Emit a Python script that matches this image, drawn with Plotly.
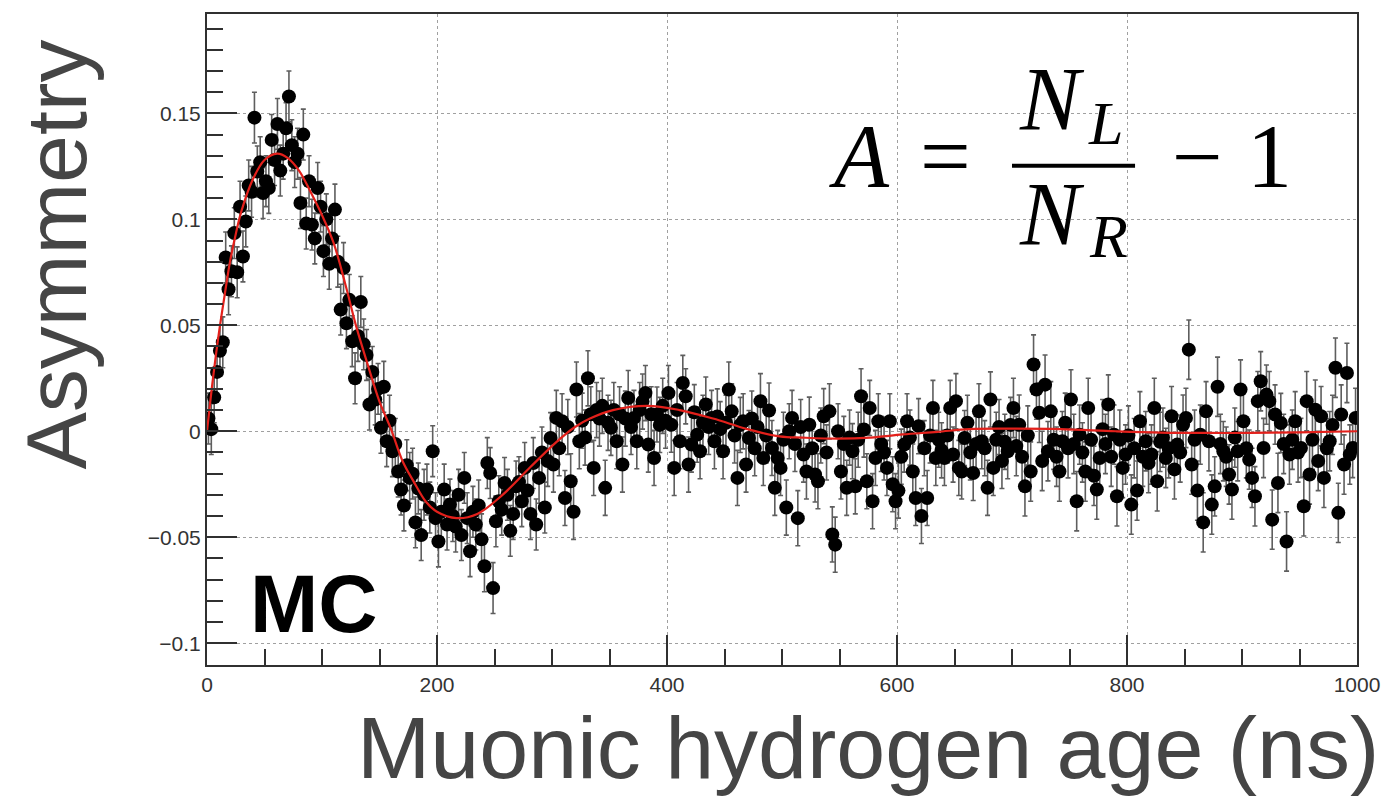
import numpy as np
import plotly.graph_objects as go

# ---------------- data ----------------
T_MAX = 1000.0          # ns, histogram range
N_BINS = 400            # 2.5 ns bins

# asymmetry per 2.5 ns bin (400 values, 4 values per 10 ns)
asymmetry = [
    0.006, 0.001, 0.016, 0.028,   0.038, 0.042, 0.082, 0.067,   0.0755, 0.0935, 0.075, 0.106,
    0.0825, 0.099, 0.116, 0.113,  0.148, 0.1226, 0.127, 0.1124, 0.118, 0.1148, 0.1375, 0.128,
    0.145, 0.123, 0.131, 0.143,   0.158, 0.135, 0.127, 0.131,   0.1077, 0.140, 0.098, 0.118,
    0.0975, 0.091, 0.1148, 0.106, 0.085, 0.100, 0.079, 0.091,   0.1046, 0.080, 0.0574, 0.077,
    0.051, 0.062, 0.0425, 0.025,  0.045, 0.061, 0.041, 0.036,   0.0126, 0.028, 0.015, 0.020,
    0.0016, 0.021, -0.0047, 0.005, -0.0094, -0.006, -0.019, -0.0275, -0.035, -0.016, -0.022, -0.020,
    -0.043, -0.027, -0.049, -0.030, -0.0275, -0.036, -0.0094, -0.041, -0.052, -0.038, -0.0275, -0.044,
    -0.0346, -0.040, -0.045, -0.030, -0.049, -0.022, -0.041, -0.0566, -0.038, -0.044, -0.035, -0.051,
    -0.0637, -0.015, -0.0197, -0.074, -0.0425, -0.033, -0.037, -0.0244, -0.030, -0.047, -0.039, -0.026,
    -0.024, -0.033, -0.0173, -0.028, -0.039, -0.015, -0.044, -0.022, -0.010, -0.036, -0.014, -0.0032,
    -0.0157, 0.0063, -0.008, 0.0047, -0.0315, 0.002, -0.0236, -0.038, 0.0197, -0.0047, 0.005, -0.003,
    0.025, 0.008, -0.0173, 0.010,  0.006, 0.012, -0.0267, 0.004,  0.0016, 0.010, -0.0047, 0.008,
    -0.0157, 0.006, 0.0157, 0.002, 0.0063, -0.0047, 0.010, 0.014, 0.018, -0.0063, 0.008, -0.0126,
    0.0079, 0.003, 0.012, 0.005,  0.018, 0.0031, -0.0173, 0.010, -0.0047, 0.0228, 0.0165, -0.0157,
    -0.0063, 0.009, -0.0016, -0.0094, 0.004, 0.0126, 0.002, 0.0063, -0.0047, 0.007, 0.001, -0.0094,
    0.004, 0.0197, 0.0094, -0.002, -0.022, 0.003, 0.0047, -0.0157, -0.0032, 0.006, -0.008, 0.002,
    0.0142, -0.0126, -0.002, 0.0098, -0.0079, -0.0267, -0.0126, -0.0173, -0.004, -0.036, 0.000, 0.0063,
    -0.006, -0.041, 0.002, -0.011, -0.019, 0.0031, -0.008, -0.0204, -0.0236, -0.002, 0.0071, -0.010,
    0.0094, -0.0487, -0.0535, 0.0, -0.019, -0.006, -0.0267, -0.003, -0.0094, -0.026, -0.004, 0.0165,
    0.0008, -0.0236, 0.011, -0.033, -0.0126, 0.0047, -0.006, -0.010, -0.0173, 0.0047, -0.025, -0.033,
    -0.028, -0.012, -0.0063, 0.0047, -0.003, -0.019, -0.0315, 0.0024, -0.040, -0.008, -0.0315, -0.002,
    0.011, -0.0126, -0.004, -0.009, -0.0126, -0.002, 0.011, -0.011, 0.0142, -0.0173, -0.019, -0.0032,
    0.004, -0.010, -0.0197, -0.006, 0.0094, -0.0047, -0.008, -0.0267, 0.015, -0.0173, -0.004, 0.002,
    -0.014, -0.005, -0.0094, 0.003, 0.011, -0.007, 0.0031, -0.012, -0.026, -0.002, -0.019, 0.0315,
    0.0197, 0.0087, -0.014, 0.022, -0.0094, 0.0094, -0.004, -0.012, -0.019, -0.0047, 0.004, -0.008,
    0.015, -0.006, -0.033, -0.0016, -0.010, -0.019, 0.011, -0.004, -0.021, -0.0275, -0.0126, 0.001,
    -0.006, 0.0126, -0.012, -0.0016, -0.0307, -0.004, -0.0173, -0.011, -0.002, -0.0346, -0.008, -0.028,
    0.0047, -0.012, -0.0047, -0.015, -0.011, 0.011, -0.0236, -0.005, -0.003, -0.0126, -0.008, 0.0071,
    -0.018, -0.0063, -0.010, 0.0031, 0.0063, 0.0385, -0.0157, -0.004, -0.028, -0.0016, -0.043, 0.0094,
    -0.0047, -0.0346, -0.026, 0.021, -0.006, -0.0094, -0.012, -0.0204, -0.0275, -0.003, -0.0094, 0.0197,
    0.0047, -0.008, -0.0134, -0.022, -0.0307, 0.0142, 0.0236, -0.0079, 0.0173, 0.0142, -0.0417, 0.0079,
    -0.0244, 0.0039, -0.006, -0.052, -0.011, -0.004, 0.0047, -0.010, -0.0079, -0.0354, 0.0142, -0.0204,
    -0.004, 0.0102, -0.014, 0.0071, -0.022, -0.008, -0.0047, 0.003, 0.030, -0.0385, 0.0079, -0.0157,
    0.0275, -0.011, -0.0079, 0.0063,
]

# statistical error, one value per 100 ns block
err_per_100ns = [0.012, 0.012, 0.012, 0.013, 0.013, 0.013, 0.013, 0.014, 0.014, 0.014]

# fitted curve, sampled from the red line in the picture
fit_t = [0, 5, 10, 15, 20, 25, 30, 40, 50, 61, 70, 80, 90, 100, 110, 120, 130, 140, 150,
         160, 170, 180, 190, 200, 217, 235, 257, 281, 304, 320, 333, 353, 383, 411, 440,
         470, 498, 518, 548, 577, 605, 635, 663, 700, 742, 790, 829, 870, 907, 950, 1000]
fit_v = [0.0, 0.024, 0.045, 0.063, 0.080, 0.093, 0.104, 0.119, 0.128, 0.131, 0.129, 0.123,
         0.113, 0.102, 0.089, 0.070, 0.049, 0.031, 0.014, 0.001, -0.014, -0.024, -0.033,
         -0.038, -0.041, -0.039, -0.030, -0.017, -0.005, 0.002, 0.006, 0.010, 0.012, 0.010,
         0.006, 0.001, -0.0024, -0.003, -0.0035, -0.003, -0.0015, -0.0003, 0.001, 0.0012,
         0.001, 0.0, -0.0006, -0.0008, -0.0008, -0.0005, 0.0]

x_tick_vals = [0, 200, 400, 600, 800, 1000]
y_tick_vals = [-0.1, -0.05, 0, 0.05, 0.1, 0.15]
y_tick_text = ["\u22120.1", "\u22120.05", "0", "0.05", "0.1", "0.15"]

# ---------------- figure ----------------
bin_w = T_MAX / N_BINS
centers = (np.arange(N_BINS) + 0.5) * bin_w
errors = np.repeat(err_per_100ns, N_BINS // len(err_per_100ns))

fig = go.Figure()
fig.add_trace(go.Scatter(
    x=centers, y=asymmetry, mode="markers",
    marker=dict(color="black", size=14, line=dict(width=0)),
    error_y=dict(type="data", array=errors, color="#5e5e5e", thickness=1.6, width=2.5),
    showlegend=False, hoverinfo="skip",
))
fig.add_trace(go.Scatter(
    x=fit_t, y=fit_v, mode="lines",
    line=dict(color="#e3201b", width=2.2, shape="spline"),
    showlegend=False, hoverinfo="skip",
))

AX = "#303030"
tick_font = dict(family="Liberation Sans, Arial, sans-serif", size=21, color="#333333")

fig.update_layout(
    width=1400, height=800,
    margin=dict(l=207, r=43, t=12, b=135),
    paper_bgcolor="white", plot_bgcolor="white",
    xaxis=dict(
        range=[0, 1000], tickmode="array", tickvals=x_tick_vals,
        ticks="inside", ticklen=30, tickwidth=1.5, tickcolor=AX,
        showline=True, linecolor=AX, linewidth=2, mirror=True,
        showgrid=True, gridcolor="#a0a0a0", gridwidth=1, griddash="dot",
        zeroline=False, tickfont=tick_font,
        minor=dict(dtick=50, tick0=0, ticks="inside", ticklen=16, tickwidth=1.5,
                   tickcolor=AX, showgrid=False),
    ),
    yaxis=dict(
        range=[-0.1103, 0.1969], tickmode="array", tickvals=y_tick_vals, ticktext=y_tick_text,
        ticks="inside", ticklen=30, tickwidth=1.5, tickcolor=AX,
        showline=True, linecolor=AX, linewidth=2, mirror=True,
        showgrid=True, gridcolor="#a0a0a0", gridwidth=1, griddash="dot",
        zeroline=False, tickfont=tick_font,
        minor=dict(dtick=0.01, tick0=0, ticks="inside", ticklen=16, tickwidth=1.5,
                   tickcolor=AX, showgrid=False),
    ),
)

title_font = "Liberation Sans, Arial, Helvetica, sans-serif"
serif = "Liberation Serif, Times New Roman, serif"
annotations = [
    dict(text="Asymmetry", xref="paper", yref="paper", x=-0.131, y=0.631,
         textangle=-90, showarrow=False, xanchor="center", yanchor="middle",
         font=dict(family=title_font, size=86, color="#454545")),
    dict(text="Muonic hydrogen age (ns)", xref="paper", yref="paper", x=0.575, y=-0.126,
         showarrow=False, xanchor="center", yanchor="middle",
         font=dict(family=title_font, size=88, color="#454545")),
    dict(text="<b>MC</b>", xref="x", yref="y", x=93, y=-0.0811, showarrow=False,
         xanchor="center", yanchor="middle",
         font=dict(family=title_font, size=82, color="black")),
    # formula A = N_L / N_R - 1
    dict(text="<i>A</i>", xref="x", yref="y", x=567, y=0.1298, showarrow=False,
         xanchor="center", yanchor="middle", font=dict(family=serif, size=90, color="black")),
    dict(text="=", xref="x", yref="y", x=642.6, y=0.1298, showarrow=False,
         xanchor="center", yanchor="middle", font=dict(family=serif, size=90, color="black")),
    dict(text="<i>N</i>", xref="x", yref="y", x=734.8, y=0.1566, showarrow=False,
         xanchor="center", yanchor="middle", font=dict(family=serif, size=90, color="black")),
    dict(text="<i>L</i>", xref="x", yref="y", x=781.7, y=0.1457, showarrow=False,
         xanchor="center", yanchor="middle", font=dict(family=serif, size=62, color="black")),
    dict(text="<i>N</i>", xref="x", yref="y", x=734.8, y=0.1024, showarrow=False,
         xanchor="center", yanchor="middle", font=dict(family=serif, size=90, color="black")),
    dict(text="<i>R</i>", xref="x", yref="y", x=784.3, y=0.0920, showarrow=False,
         xanchor="center", yanchor="middle", font=dict(family=serif, size=62, color="black")),
    dict(text="\u2212", xref="x", yref="y", x=860.9, y=0.1298, showarrow=False,
         xanchor="center", yanchor="middle", font=dict(family=serif, size=90, color="black")),
    dict(text="1", xref="x", yref="y", x=924.3, y=0.1298, showarrow=False,
         xanchor="center", yanchor="middle", font=dict(family=serif, size=90, color="black")),
]
fig.update_layout(annotations=annotations)
fig.add_shape(type="line", xref="x", yref="y", x0=700, x1=807, y0=0.1253, y1=0.1253,
              line=dict(color="black", width=4))

fig.write_html(
    "out.html",
    config={"displayModeBar": False},
    post_script="document.body.style.margin='0';document.body.style.overflow='hidden';",
)
